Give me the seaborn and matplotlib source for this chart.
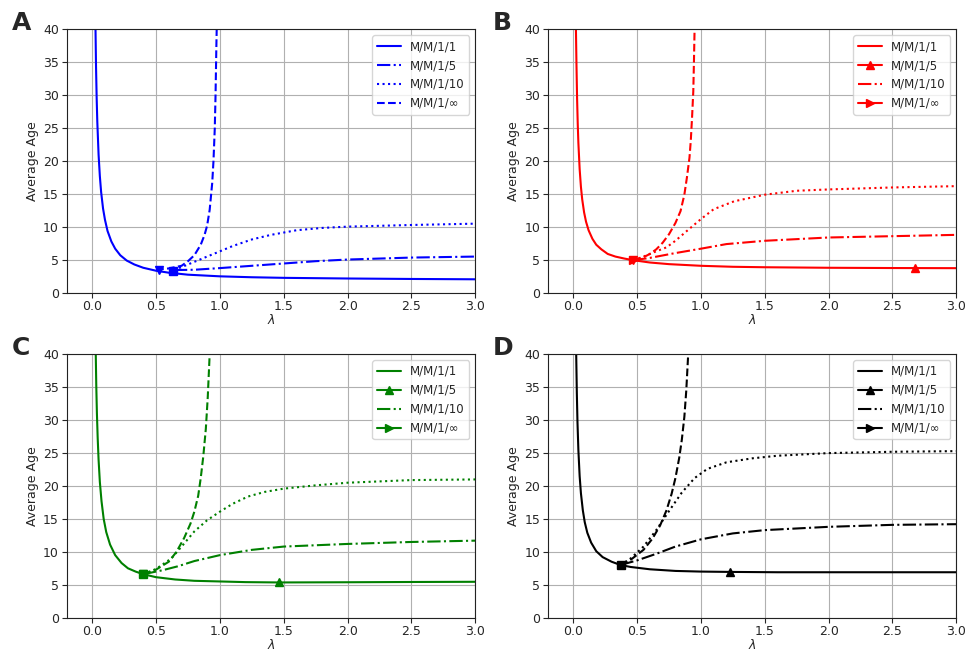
import matplotlib
matplotlib.use("Agg")
import matplotlib.pyplot as plt
from matplotlib.lines import Line2D
import seaborn as sns

# ---- data (lambda, average age) ----
# panel A (blue)
a_m1_lam = [0.026, 0.03, 0.035, 0.04, 0.05, 0.06, 0.07, 0.085, 0.1, 0.12, 0.15, 0.18, 0.22, 0.27, 0.33, 0.4, 0.5, 0.6, 0.75, 1.0, 1.25, 1.5, 2.0, 2.5, 3.0]
a_m1_age = [40, 34.4, 29.6, 26.0, 21.0, 17.7, 15.3, 12.8, 11.1, 9.4, 7.8, 6.7, 5.7, 4.9, 4.3, 3.8, 3.35, 3.05, 2.75, 2.5, 2.36, 2.27, 2.17, 2.1, 2.05]
a_m5_lam = [0.64, 0.8, 1.0, 1.25, 1.5, 1.75, 2.0, 2.5, 3.0]
a_m5_age = [3.45, 3.5, 3.75, 4.1, 4.45, 4.8, 5.05, 5.35, 5.5]
a_m10_lam = [0.64, 0.7, 0.8, 0.9, 1.0, 1.1, 1.25, 1.4, 1.6, 1.8, 2.0, 2.5, 3.0]
a_m10_age = [3.45, 3.9, 4.7, 5.5, 6.3, 7.1, 8.1, 8.8, 9.5, 9.85, 10.05, 10.3, 10.5]
a_inf_lam = [0.5, 0.6, 0.7, 0.75, 0.8, 0.85, 0.88, 0.9, 0.92, 0.94, 0.95, 0.96, 0.966, 0.972, 0.975]
a_inf_age = [3.5, 3.7, 4.1, 4.8, 5.7, 7.3, 8.8, 10.2, 12.6, 16.7, 20.1, 25.0, 30.0, 37.0, 40]

# panel B (red)
b_m1_lam = [0.021, 0.025, 0.03, 0.035, 0.04, 0.05, 0.06, 0.07, 0.085, 0.1, 0.12, 0.15, 0.18, 0.22, 0.27, 0.33, 0.4, 0.47, 0.6, 0.75, 1.0, 1.25, 1.5, 2.0, 2.5, 3.0]
b_m1_age = [40, 34.8, 29.5, 25.7, 22.8, 18.8, 16.1, 14.2, 12.2, 10.8, 9.5, 8.2, 7.3, 6.6, 5.9, 5.5, 5.2, 4.95, 4.6, 4.35, 4.1, 3.95, 3.88, 3.8, 3.76, 3.74]
b_m5_lam = [0.47, 0.6, 0.79, 1.0, 1.2, 1.5, 2.0, 2.5, 3.0]
b_m5_age = [4.95, 5.3, 6.0, 6.7, 7.4, 7.9, 8.4, 8.6, 8.8]
b_m10_lam = [0.47, 0.55, 0.65, 0.73, 0.8, 0.89, 1.0, 1.1, 1.26, 1.5, 1.75, 2.0, 2.5, 3.0]
b_m10_age = [4.95, 5.5, 6.3, 6.9, 7.9, 9.4, 11.2, 12.7, 13.9, 14.9, 15.5, 15.7, 16.0, 16.2]
b_inf_lam = [0.47, 0.55, 0.6, 0.65, 0.7, 0.75, 0.8, 0.84, 0.87, 0.89, 0.91, 0.92, 0.93, 0.94, 0.945, 0.95]
b_inf_age = [4.95, 5.4, 5.9, 6.6, 7.6, 8.9, 10.6, 12.4, 14.9, 17.5, 20.5, 23.0, 26.5, 30.6, 35.0, 40]

# panel C (green)
c_m1_lam = [0.028, 0.032, 0.037, 0.043, 0.05, 0.06, 0.073, 0.09, 0.11, 0.14, 0.18, 0.23, 0.28, 0.34, 0.4, 0.5, 0.65, 0.8, 1.0, 1.2, 1.46, 2.0, 2.5, 3.0]
c_m1_age = [40, 35.2, 31.0, 27.3, 24.0, 20.6, 17.7, 15.0, 13.0, 11.1, 9.5, 8.3, 7.5, 7.0, 6.6, 6.15, 5.8, 5.6, 5.5, 5.4, 5.35, 5.38, 5.42, 5.45]
c_m5_lam = [0.4, 0.55, 0.67, 0.8, 1.0, 1.25, 1.5, 2.0, 2.5, 3.0]
c_m5_age = [6.6, 7.2, 7.8, 8.6, 9.5, 10.3, 10.8, 11.2, 11.5, 11.7]
c_m10_lam = [0.4, 0.5, 0.62, 0.7, 0.8, 0.9, 1.0, 1.1, 1.22, 1.35, 1.5, 1.75, 2.0, 2.5, 3.0]
c_m10_age = [6.6, 7.4, 9.0, 10.8, 13.1, 14.8, 16.1, 17.3, 18.4, 19.1, 19.6, 20.1, 20.5, 20.9, 21.0]
c_inf_lam = [0.4, 0.5, 0.6, 0.66, 0.72, 0.77, 0.8, 0.83, 0.85, 0.87, 0.89, 0.905, 0.92]
c_inf_age = [6.6, 7.3, 8.5, 10.0, 12.1, 14.3, 16.1, 18.5, 21.2, 24.5, 28.7, 33.5, 40]

# panel D (black)
d_m1_lam = [0.023, 0.028, 0.033, 0.04, 0.05, 0.06, 0.075, 0.09, 0.11, 0.14, 0.18, 0.23, 0.3, 0.37, 0.45, 0.6, 0.8, 1.0, 1.23, 1.6, 2.0, 2.5, 3.0]
d_m1_age = [40, 34.1, 29.7, 25.5, 21.5, 18.9, 16.3, 14.5, 12.9, 11.4, 10.1, 9.2, 8.5, 8.0, 7.7, 7.35, 7.1, 7.0, 6.95, 6.9, 6.9, 6.9, 6.9]
d_m5_lam = [0.37, 0.5, 0.65, 0.8, 1.0, 1.25, 1.5, 2.0, 2.5, 3.0]
d_m5_age = [8.0, 8.7, 9.7, 10.8, 11.9, 12.8, 13.3, 13.8, 14.1, 14.2]
d_m10_lam = [0.37, 0.45, 0.55, 0.65, 0.75, 0.85, 0.95, 1.05, 1.2, 1.4, 1.6, 2.0, 2.5, 3.0]
d_m10_age = [8.0, 9.0, 10.8, 13.3, 16.2, 19.0, 21.2, 22.6, 23.6, 24.2, 24.6, 25.0, 25.2, 25.3]
d_inf_lam = [0.37, 0.45, 0.55, 0.62, 0.68, 0.73, 0.77, 0.8, 0.83, 0.85, 0.87, 0.885, 0.9]
d_inf_age = [8.0, 8.8, 10.3, 12.0, 14.0, 16.3, 18.8, 21.2, 24.3, 27.0, 30.5, 34.5, 40]

# highlighted points (marker, lambda, age)
a_marks = [("v", 0.525, 3.5), ("s", 0.635, 3.35)]
b_marks = [("v", 0.47, 4.95), (">", 0.47, 4.95), ("^", 2.68, 3.75)]
c_marks = [("v", 0.40, 6.6), ("s", 0.40, 6.6), ("^", 1.46, 5.35)]
d_marks = [("s", 0.37, 8.0), ("^", 1.23, 6.95)]

labels = ["M/M/1/1", "M/M/1/5", "M/M/1/10", "M/M/1/\u221e"]

sns.set_style("ticks")
plt.rcParams["font.family"] = ["DejaVu Sans"]

fig = plt.figure(figsize=(9.66, 6.55), dpi=100)
boxes = [[0.069, 0.553, 0.423, 0.402], [0.567, 0.553, 0.423, 0.402],
         [0.069, 0.057, 0.423, 0.402], [0.567, 0.057, 0.423, 0.402]]

panels = [
    ("A", "blue", [(a_m1_lam, a_m1_age), (a_m5_lam, a_m5_age), (a_m10_lam, a_m10_age), (a_inf_lam, a_inf_age)], a_marks),
    ("B", "red", [(b_m1_lam, b_m1_age), (b_m5_lam, b_m5_age), (b_m10_lam, b_m10_age), (b_inf_lam, b_inf_age)], b_marks),
    ("C", "green", [(c_m1_lam, c_m1_age), (c_m5_lam, c_m5_age), (c_m10_lam, c_m10_age), (c_inf_lam, c_inf_age)], c_marks),
    ("D", "black", [(d_m1_lam, d_m1_age), (d_m5_lam, d_m5_age), (d_m10_lam, d_m10_age), (d_inf_lam, d_inf_age)], d_marks),
]
styles = ["-", "-.", ":", "--"]

for box, (letter, col, curves, marks) in zip(boxes, panels):
    ax = fig.add_axes(box)
    ax.grid(True, color="#b0b0b0", linewidth=0.8)
    ax.set_axisbelow(True)
    for (lam, age), ls in zip(curves, styles):
        sns.lineplot(x=lam, y=age, ax=ax, color=col, linestyle=ls, linewidth=1.5,
                     estimator=None, sort=False)
    for m, x, y in marks:
        ax.plot([x], [y], marker=m, color=col, markersize=6, linestyle="none", zorder=4)

    ax.set_xlim(-0.2, 3.0)
    ax.set_ylim(0, 40)
    ax.set_xticks([0.0, 0.5, 1.0, 1.5, 2.0, 2.5, 3.0])
    ax.set_yticks(range(0, 41, 5))
    ax.tick_params(labelsize=9, length=3.5, width=0.8, pad=2)
    for sp in ax.spines.values():
        sp.set_color("#222222")
        sp.set_linewidth(0.8)
    ax.set_xlabel(r"$\lambda$", fontsize=9, labelpad=0)
    ax.set_ylabel("Average Age", fontsize=9, labelpad=3)

    if letter == "A":
        handles = [Line2D([], [], color=col, linestyle=s, linewidth=1.5) for s in styles]
    else:
        handles = [Line2D([], [], color=col, linestyle="-", linewidth=1.5),
                   Line2D([], [], color=col, linestyle="-", marker="^", linewidth=1.5, markersize=6),
                   Line2D([], [], color=col, linestyle="-.", linewidth=1.5),
                   Line2D([], [], color=col, linestyle="-", marker=">", linewidth=1.5, markersize=6)]
    ax.legend(handles, labels, loc="upper right", fontsize=8.5, frameon=True)

    fig.text(box[0] - 0.057, box[1] + box[3] + 0.01, letter, fontsize=18,
             fontweight="bold", ha="left", va="center")

fig.savefig("out.png", dpi=100)
